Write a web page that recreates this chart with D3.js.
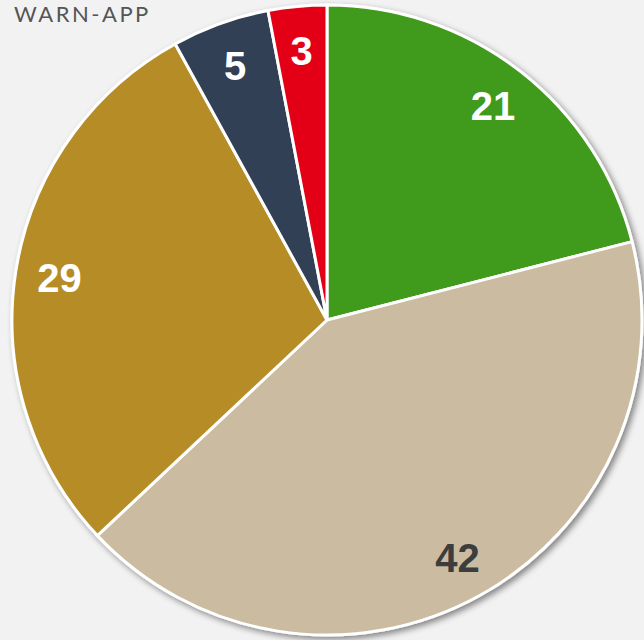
<!DOCTYPE html>
<html>
<head>
  <meta charset="utf-8">
  <script src="https://d3js.org/d3.v7.min.js"></script>
  <style>
    body { margin: 0; background: #f2f2f2; }
    #title {
      position: absolute; left: 14px; top: 2.5px; line-height: 1;
      font-family: Lato, sans-serif; font-size: 22px; letter-spacing: 2.5px; color: #555;
    }
  </style>
</head>
<body>
  <div id="title">WARN-APP</div>
  <div id="pie"></div>
<script>
  const categories = ["A", "B", "C", "D", "E"]
  const values = [21, 42, 29, 5, 3]
  const colors = ["#3f9a1b", "#cbbba0", "#b68c28", "#333f55", "#e30613"]
  const labelColors = ["#ffffff", "#3d3d3d", "#ffffff", "#ffffff", "#ffffff"]

  const width = 644
  const height = 640
  const cx = 327
  const cy = 320
  const radius = 315

  const svg = d3.select("#pie").append("svg")
    .attr("width", width)
    .attr("height", height)

  const defs = svg.append("defs")
  defs.append("filter")
    .attr("id", "shadow")
    .attr("x", "-10%").attr("y", "-10%")
    .attr("width", "120%").attr("height", "120%")
    .append("feDropShadow")
    .attr("dx", 3).attr("dy", 3)
    .attr("stdDeviation", 3)
    .attr("flood-color", "#000")
    .attr("flood-opacity", 0.45)

  const g = svg.append("g").attr("transform", `translate(${cx}, ${cy})`)

  const pie = d3.pie().sort(null).value(d => d.value)
  const data = categories.map((c, i) => ({ name: c, value: values[i], i: i }))
  const pieData = pie(data)

  const arc = d3.arc().innerRadius(0).outerRadius(radius)
  const labelArc = d3.arc().innerRadius(radius * 0.86).outerRadius(radius * 0.86)

  const slices = g.append("g").attr("filter", "url(#shadow)")
  slices.selectAll("path")
    .data(pieData)
    .join("path")
    .attr("d", arc)
    .attr("fill", d => colors[d.data.i])
    .attr("stroke", "white")
    .attr("stroke-width", 3)
    .attr("stroke-linejoin", "round")

  g.selectAll("text")
    .data(pieData)
    .join("text")
    .attr("transform", d => `translate(${labelArc.centroid(d)})`)
    .attr("text-anchor", "middle")
    .attr("dy", "0.36em")
    .style("font", "bold 40px 'Liberation Sans', Arial, sans-serif")
    .attr("fill", d => labelColors[d.data.i])
    .text(d => d.data.value)
</script>
</body>
</html>
